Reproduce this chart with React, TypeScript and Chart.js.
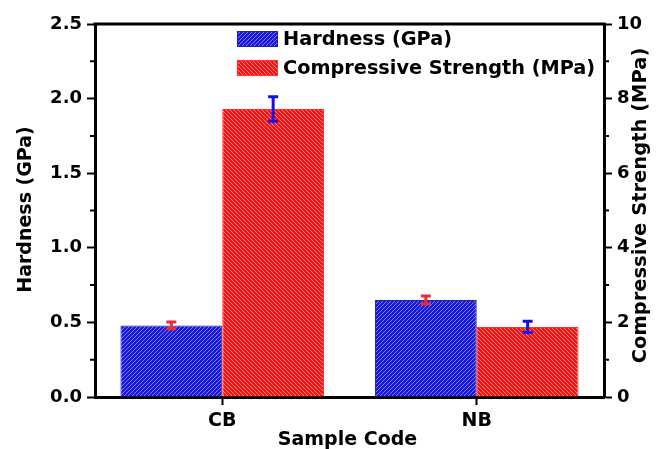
import React, { useEffect, useRef } from 'react';
import { Chart, registerables } from 'chart.js';

Chart.register(...registerables);

const categories = ['CB', 'NB'];
const hardness = [0.48, 0.65];
const hardnessErr = [0.022, 0.027];
const strength = [7.72, 1.88];
const strengthErr = [0.33, 0.15];
const hardnessMinorTicks = [0.25, 0.75, 1.25, 1.75, 2.25];
const strengthMinorTicks = [1, 3, 5, 7, 9];

const FONT = '"DejaVu Sans", "Liberation Sans", Arial, sans-serif';

function hatch(base: string, line: string, dir: 'up' | 'down') {
  const c = document.createElement('canvas');
  c.width = 4;
  c.height = 4;
  const x = c.getContext('2d')!;
  x.fillStyle = base;
  x.fillRect(0, 0, 4, 4);
  x.strokeStyle = line;
  x.lineWidth = 1;
  x.beginPath();
  if (dir === 'up') {
    x.moveTo(-1, 5); x.lineTo(5, -1);
    x.moveTo(-3, 3); x.lineTo(3, -3);
    x.moveTo(1, 7); x.lineTo(7, 1);
  } else {
    x.moveTo(-1, -1); x.lineTo(5, 5);
    x.moveTo(-3, 1); x.lineTo(3, 7);
    x.moveTo(1, -3); x.lineTo(7, 3);
  }
  x.stroke();
  const ctx = document.createElement('canvas').getContext('2d')!;
  return ctx.createPattern(c, 'repeat')!;
}

export default function App() {
  const ref = useRef<HTMLCanvasElement>(null);

  useEffect(() => {
    const canvas = ref.current!;
    const bluePat = hatch('#1a1ad8', '#7a7aff', 'up');
    const redPat = hatch('#ff1010', '#ff8a8a', 'down');
    const errColors = ['#ee2a3a', '#1010e6'];

    const extras = {
      id: 'extras',
      afterDatasetsDraw(chart: any) {
        const ctx = chart.ctx;
        const errs = [hardnessErr, strengthErr];
        chart.data.datasets.forEach((ds: any, di: number) => {
          const meta = chart.getDatasetMeta(di);
          const ys = chart.scales[ds.yAxisID];
          meta.data.forEach((bar: any, i: number) => {
            const v = ds.data[i];
            const e = errs[di][i];
            const yTop = ys.getPixelForValue(v + e);
            const yBot = ys.getPixelForValue(v - e);
            ctx.save();
            ctx.strokeStyle = errColors[di];
            ctx.lineWidth = 3;
            ctx.beginPath();
            ctx.moveTo(bar.x, yTop); ctx.lineTo(bar.x, yBot);
            ctx.moveTo(bar.x - 5, yTop); ctx.lineTo(bar.x + 5, yTop);
            ctx.moveTo(bar.x - 5, yBot); ctx.lineTo(bar.x + 5, yBot);
            ctx.stroke();
            ctx.restore();
          });
        });
      },
      afterDraw(chart: any) {
        const ctx = chart.ctx;
        const a = chart.chartArea;
        ctx.save();
        // top frame line
        ctx.strokeStyle = '#000';
        ctx.lineWidth = 3;
        ctx.beginPath();
        ctx.moveTo(a.left - 1.5, a.top);
        ctx.lineTo(a.right + 1.5, a.top);
        ctx.stroke();
        // minor ticks
        ctx.lineWidth = 2;
        const yl = chart.scales.y;
        const yr = chart.scales.y1;
        ctx.beginPath();
        hardnessMinorTicks.forEach((v) => {
          const p = yl.getPixelForValue(v);
          ctx.moveTo(a.left, p); ctx.lineTo(a.left - 5, p);
        });
        strengthMinorTicks.forEach((v) => {
          const p = yr.getPixelForValue(v);
          ctx.moveTo(a.right, p); ctx.lineTo(a.right + 5, p);
        });
        ctx.stroke();
        // axis titles
        ctx.fillStyle = '#000';
        ctx.font = `bold 19px ${FONT}`;
        ctx.textAlign = 'center';
        ctx.textBaseline = 'middle';
        const midY = (a.top + a.bottom) / 2;
        ctx.save();
        ctx.translate(26, midY - 1);
        ctx.rotate(-Math.PI / 2);
        ctx.fillText('Hardness (GPa)', 0, 0);
        ctx.restore();
        ctx.save();
        ctx.font = `bold 19.5px ${FONT}`;
        ctx.translate(641, midY - 5);
        ctx.rotate(-Math.PI / 2);
        ctx.fillText('Compressive Strength (MPa)', 0, 0);
        ctx.restore();
        ctx.fillText('Sample Code', (a.left + a.right) / 2 - 2, 440);
        // legend
        const items = [
          { label: 'Hardness (GPa)', fill: bluePat, border: '#2020a0', y: 31 },
          { label: 'Compressive Strength (MPa)', fill: redPat, border: '#ff3030', y: 60 },
        ];
        ctx.font = `bold 19.3px ${FONT}`;
        ctx.textAlign = 'left';
        items.forEach((it) => {
          ctx.fillStyle = it.fill;
          ctx.fillRect(237, it.y, 41, 16);
          ctx.strokeStyle = it.border;
          ctx.lineWidth = 1;
          ctx.strokeRect(237.5, it.y + 0.5, 40, 15);
          ctx.fillStyle = '#000';
          ctx.fillText(it.label, 283, it.y + 9);
        });
        ctx.restore();
      },
    };

    const chart = new Chart(canvas, {
      type: 'bar',
      data: {
        labels: categories,
        datasets: [
          {
            label: 'Hardness (GPa)',
            data: hardness,
            yAxisID: 'y',
            backgroundColor: bluePat as any,
            borderColor: '#2020a0',
            borderWidth: 1,
            barPercentage: 1,
            categoryPercentage: 0.8,
          },
          {
            label: 'Compressive Strength (MPa)',
            data: strength,
            yAxisID: 'y1',
            backgroundColor: redPat as any,
            borderColor: '#ff3030',
            borderWidth: 1,
            barPercentage: 1,
            categoryPercentage: 0.8,
          },
        ],
      },
      options: {
        responsive: false,
        animation: false,
        layout: { padding: { top: 24, left: 0, right: 0, bottom: 0 } },
        plugins: { legend: { display: false }, tooltip: { enabled: false } },
        scales: {
          x: {
            grid: { drawOnChartArea: false, offset: false, tickLength: 8, tickWidth: 2, tickColor: '#000' },
            border: { color: '#000', width: 3 },
            ticks: { color: '#000', font: { family: FONT, size: 19, weight: 'bold' }, padding: 5 },
            afterFit: (s: any) => { s.height = 52; },
          },
          y: {
            position: 'left',
            min: 0,
            max: 2.5,
            grid: { drawOnChartArea: false, tickLength: 8, tickWidth: 2, tickColor: '#000' },
            border: { color: '#000', width: 3 },
            ticks: {
              stepSize: 0.5,
              color: '#000',
              padding: 5,
              font: { family: FONT, size: 18, weight: 'bold' },
              callback: (v: any) => Number(v).toFixed(1),
            },
            afterFit: (s: any) => { s.width = 95; },
          },
          y1: {
            position: 'right',
            min: 0,
            max: 10,
            grid: { drawOnChartArea: false, tickLength: 8, tickWidth: 2, tickColor: '#000' },
            border: { color: '#000', width: 3 },
            ticks: {
              stepSize: 2,
              color: '#000',
              padding: 5,
              font: { family: FONT, size: 18, weight: 'bold' },
              callback: (v: any) => String(v),
            },
            afterFit: (s: any) => { s.width = 53; },
          },
        },
      },
      plugins: [extras],
    });
    return () => chart.destroy();
  }, []);

  return (
    <div style={{ position: 'fixed', left: 0, top: 0, width: 657, height: 449, background: '#fff' }}>
      <canvas ref={ref} width={657} height={449} />
    </div>
  );
}
